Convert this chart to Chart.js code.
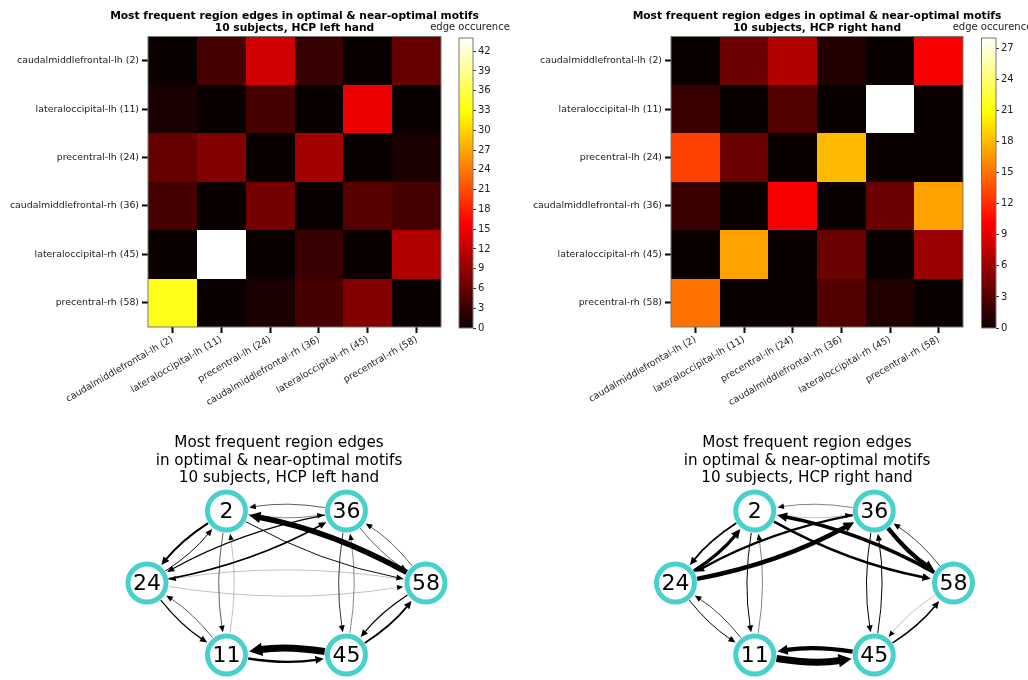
<!DOCTYPE html>
<html>
<head>
<meta charset="utf-8">
<script src="https://cdn.jsdelivr.net/npm/chart.js@4.4.1/dist/chart.umd.min.js"></script>
<style>
  body { margin: 0; background: #fff; width: 1028px; height: 680px; overflow: hidden; position: relative; }
  canvas { position: absolute; }
</style>
</head>
<body>
<canvas id="heatLeft" width="520" height="420" style="left:0;top:0"></canvas>
<canvas id="barLeft" width="95" height="340" style="left:425px;top:0"></canvas>
<canvas id="heatRight" width="505" height="420" style="left:523px;top:0"></canvas>
<canvas id="barRight" width="88" height="340" style="left:940px;top:0"></canvas>
<canvas id="netLeft" width="360" height="260" style="left:99px;top:420px"></canvas>
<canvas id="netRight" width="360" height="260" style="left:627px;top:420px"></canvas>
<script>
// regions, in matrix order (row = source, column = target)
const nodeIds = [2, 11, 24, 36, 45, 58];
const regionLabels = [
    'caudalmiddlefrontal-lh (2)',
    'lateraloccipital-lh (11)',
    'precentral-lh (24)',
    'caudalmiddlefrontal-rh (36)',
    'lateraloccipital-rh (45)',
    'precentral-rh (58)'
];

// edge occurence counts
const leftHandCounts = [
    [0, 4, 13, 3, 0, 6],
    [1, 0, 4, 0, 15, 0],
    [6, 8, 0, 10, 0, 1],
    [4, 0, 7, 0, 5, 4],
    [0, 44, 0, 3, 0, 11],
    [34, 0, 1, 4, 8, 0]
];
const rightHandCounts = [
    [0, 4, 7, 1, 0, 10],
    [2, 0, 3, 0, 28, 0],
    [13, 4, 0, 18, 0, 0],
    [2, 0, 10, 0, 4, 17],
    [0, 17, 0, 4, 0, 6],
    [15, 0, 0, 3, 1, 0]
];
const leftMax = 44;
const rightMax = 28;
const colorbarStep = 3;

// node layout of the graph drawings (same order as nodeIds)
const nodeLayoutX = [-0.43, -0.43, -1, 0.43, 0.43, 1];
const nodeLayoutY = [1, -1, 0, 1, -1, 0];

const titleTop = 'Most frequent region edges in optimal & near-optimal motifs';
const ringColor = '#48d1cc';

Chart.defaults.font.family = 'DejaVu Sans';
Chart.defaults.color = '#222';

// matplotlib "hot" colormap
function hot(t) {
    t = Math.max(0, Math.min(1, t));
    let r = Math.min(1, 0.0416 + t / 0.365079 * (1 - 0.0416));
    let g = Math.max(0, Math.min(1, (t - 0.365079) / (0.746032 - 0.365079)));
    let b = Math.max(0, Math.min(1, (t - 0.746032) / (1 - 0.746032)));
    return `rgb(${Math.round(r * 255)},${Math.round(g * 255)},${Math.round(b * 255)})`;
}

function cellsFrom(counts) {
    let cells = [];
    counts.forEach((row, i) => row.forEach((v, j) => cells.push({ x: j, y: i, v: v })));
    return cells;
}

const panelTitle = {
    id: 'panelTitle',
    afterDraw(chart, args, opts) {
        let ctx = chart.ctx;
        let area = chart.chartArea;
        ctx.save();
        ctx.font = opts.font;
        ctx.fillStyle = opts.color || '#000';
        ctx.textAlign = 'center';
        ctx.textBaseline = 'middle';
        let cx = (opts.x != null) ? opts.x : (area.left + area.right) / 2;
        opts.lines.forEach((line, k) => ctx.fillText(line, cx, opts.y[k]));
        ctx.restore();
    }
};

const heatCells = {
    id: 'heatCells',
    beforeDatasetsDraw(chart, args, opts) {
        let { ctx, chartArea, scales } = chart;
        ctx.save();
        chart.data.datasets[0].data.forEach(c => {
            let x0 = Math.round(scales.x.getPixelForValue(c.x - 0.5));
            let x1 = Math.round(scales.x.getPixelForValue(c.x + 0.5));
            let y0 = Math.round(scales.y.getPixelForValue(c.y - 0.5));
            let y1 = Math.round(scales.y.getPixelForValue(c.y + 0.5));
            ctx.fillStyle = hot(c.v / opts.max);
            ctx.fillRect(Math.min(x0, x1), Math.min(y0, y1), Math.abs(x1 - x0), Math.abs(y1 - y0));
        });
        ctx.strokeStyle = '#777';
        ctx.lineWidth = 1;
        ctx.strokeRect(chartArea.left, chartArea.top, chartArea.right - chartArea.left, chartArea.bottom - chartArea.top);
        ctx.restore();
    }
};

function heatmapChart(id, counts, maxVal, subtitle, padRight) {
    return new Chart(document.getElementById(id), {
        type: 'scatter',
        data: { datasets: [{ data: cellsFrom(counts), pointRadius: 0 }] },
        options: {
            responsive: false,
            animation: false,
            events: [],
            layout: { autoPadding: false, padding: { top: 36.5, right: padRight, left: 0, bottom: 0 } },
            plugins: {
                legend: { display: false },
                tooltip: { enabled: false },
                heatCells: { max: maxVal },
                panelTitle: { lines: [titleTop, subtitle], font: 'bold 10.7px "DejaVu Sans"', y: [16, 28] }
            },
            scales: {
                x: {
                    type: 'linear', min: -0.5, max: 5.5,
                    afterBuildTicks: s => { s.ticks = nodeIds.map((n, k) => ({ value: k })); },
                    afterFit: s => { s.height = 93; },
                    ticks: { autoSkip: false, maxRotation: 30, minRotation: 30, padding: 1,
                             font: { size: 9.4 }, callback: v => regionLabels[v] },
                    grid: { drawOnChartArea: false, tickLength: 6, tickWidth: 2, tickColor: '#000' },
                    border: { display: false }
                },
                y: {
                    type: 'linear', min: -0.5, max: 5.5, reverse: true,
                    afterBuildTicks: s => { s.ticks = nodeIds.map((n, k) => ({ value: k })); },
                    afterFit: s => { s.width = 148; },
                    ticks: { autoSkip: false, padding: 3, font: { size: 9.4 }, callback: v => regionLabels[v] },
                    grid: { drawOnChartArea: false, tickLength: 6, tickWidth: 2, tickColor: '#000' },
                    border: { display: false }
                }
            }
        },
        plugins: [heatCells, panelTitle]
    });
}

const colorbarFill = {
    id: 'colorbarFill',
    beforeDatasetsDraw(chart) {
        let { ctx, chartArea: a } = chart;
        let g = ctx.createLinearGradient(0, a.bottom, 0, a.top);
        [0, 0.365079, 0.746032, 1].forEach(t => g.addColorStop(t, hot(t)));
        ctx.save();
        ctx.fillStyle = g;
        ctx.fillRect(a.left, a.top, a.right - a.left, a.bottom - a.top);
        ctx.strokeStyle = '#777';
        ctx.lineWidth = 1;
        ctx.strokeRect(a.left, a.top, a.right - a.left, a.bottom - a.top);
        ctx.restore();
    }
};

function colorbarChart(id, maxVal, padLeft, axisWidth) {
    return new Chart(document.getElementById(id), {
        type: 'scatter',
        data: { datasets: [{ data: [], pointRadius: 0 }] },
        options: {
            responsive: false,
            animation: false,
            events: [],
            layout: { autoPadding: false, padding: { top: 38, bottom: 12, left: padLeft, right: 0 } },
            plugins: {
                legend: { display: false },
                tooltip: { enabled: false },
                panelTitle: { lines: ['edge occurence'], font: '10px "DejaVu Sans"', y: [27], x: padLeft + 11, color: '#222' }
            },
            scales: {
                x: { display: false, min: 0, max: 1 },
                y: {
                    position: 'right', min: 0, max: maxVal,
                    afterBuildTicks: s => {
                        let t = [];
                        for (let v = 0; v <= maxVal; v += colorbarStep) t.push({ value: v });
                        s.ticks = t;
                    },
                    afterFit: s => { s.width = axisWidth; },
                    ticks: { padding: 2, font: { size: 10 } },
                    grid: { drawOnChartArea: false, tickLength: 3, tickWidth: 0.8, tickColor: '#000' },
                    border: { display: false }
                }
            }
        },
        plugins: [colorbarFill, panelTitle]
    });
}

// shrink a bezier end towards its control point by the node radius
function shrinkTo(p, cx, cy, r) {
    let dx = cx - p.x, dy = cy - p.y;
    let d = Math.hypot(dx, dy);
    return { x: p.x + dx / d * r, y: p.y + dy / d * r };
}

const graphEdges = {
    id: 'graphEdges',
    beforeDatasetsDraw(chart, args, opts) {
        let ctx = chart.ctx;
        let pts = chart.getDatasetMeta(0).data;
        ctx.save();
        ctx.strokeStyle = '#000';
        ctx.fillStyle = '#000';
        opts.counts.forEach((row, i) => row.forEach((v, j) => {
            if (!v) return;
            let a = pts[i], b = pts[j];
            let w = v / opts.max * 7;
            let dx = b.x - a.x, dy = b.y - a.y;
            let cx = (a.x + b.x) / 2 - opts.bend * dy;
            let cy = (a.y + b.y) / 2 + opts.bend * dx;
            let s = shrinkTo(a, cx, cy, 22);
            let e = shrinkTo(b, cx, cy, 23);
            let ang = Math.atan2(e.y - cy, e.x - cx);
            let headLen = 6 + w;
            let headW = 2.5 + w * 0.6;
            let bx = e.x - Math.cos(ang) * headLen * 0.9;
            let by = e.y - Math.sin(ang) * headLen * 0.9;
            ctx.lineWidth = Math.max(w, 0.25);
            ctx.beginPath();
            ctx.moveTo(s.x, s.y);
            ctx.quadraticCurveTo(cx, cy, bx, by);
            ctx.stroke();
            let hx = e.x - Math.cos(ang) * headLen, hy = e.y - Math.sin(ang) * headLen;
            ctx.beginPath();
            ctx.moveTo(e.x, e.y);
            ctx.lineTo(hx - Math.sin(ang) * headW, hy + Math.cos(ang) * headW);
            ctx.lineTo(hx + Math.sin(ang) * headW, hy - Math.cos(ang) * headW);
            ctx.closePath();
            ctx.fill();
        }));
        ctx.restore();
    },
    afterDatasetsDraw(chart) {
        let ctx = chart.ctx;
        ctx.save();
        ctx.font = '22px "DejaVu Sans"';
        ctx.fillStyle = '#000';
        ctx.textAlign = 'center';
        ctx.textBaseline = 'middle';
        chart.getDatasetMeta(0).data.forEach((p, k) => ctx.fillText(String(nodeIds[k]), p.x, p.y + 1));
        ctx.restore();
    }
};

function networkChart(id, counts, maxVal, subtitle, xMin, xMax) {
    return new Chart(document.getElementById(id), {
        type: 'scatter',
        data: {
            datasets: [{
                data: nodeIds.map((n, k) => ({ x: nodeLayoutX[k], y: nodeLayoutY[k] })),
                pointRadius: 19,
                borderWidth: 5,
                borderColor: ringColor,
                backgroundColor: '#fff'
            }]
        },
        options: {
            responsive: false,
            animation: false,
            events: [],
            layout: { autoPadding: false, padding: 0 },
            plugins: {
                legend: { display: false },
                tooltip: { enabled: false },
                graphEdges: { counts: counts, max: maxVal, bend: 0.08 },
                panelTitle: {
                    lines: ['Most frequent region edges', 'in optimal & near-optimal motifs', subtitle],
                    font: '15.2px "DejaVu Sans"', y: [23, 41, 58], x: 180
                }
            },
            scales: {
                x: { display: false, min: xMin, max: xMax },
                y: { display: false, min: -1.347, max: 2.264 }
            }
        },
        plugins: [graphEdges, panelTitle]
    });
}

heatmapChart('heatLeft', leftHandCounts, leftMax, '10 subjects, HCP left hand', 79);
colorbarChart('barLeft', leftMax, 34, 47);
heatmapChart('heatRight', rightHandCounts, rightMax, '10 subjects, HCP right hand', 65);
colorbarChart('barRight', rightMax, 41.5, 32);
networkChart('netLeft', leftHandCounts, leftMax, '10 subjects, HCP left hand', -1.344, 1.237);
networkChart('netRight', rightHandCounts, rightMax, '10 subjects, HCP right hand', -1.349, 1.241);
</script>
</body>
</html>
